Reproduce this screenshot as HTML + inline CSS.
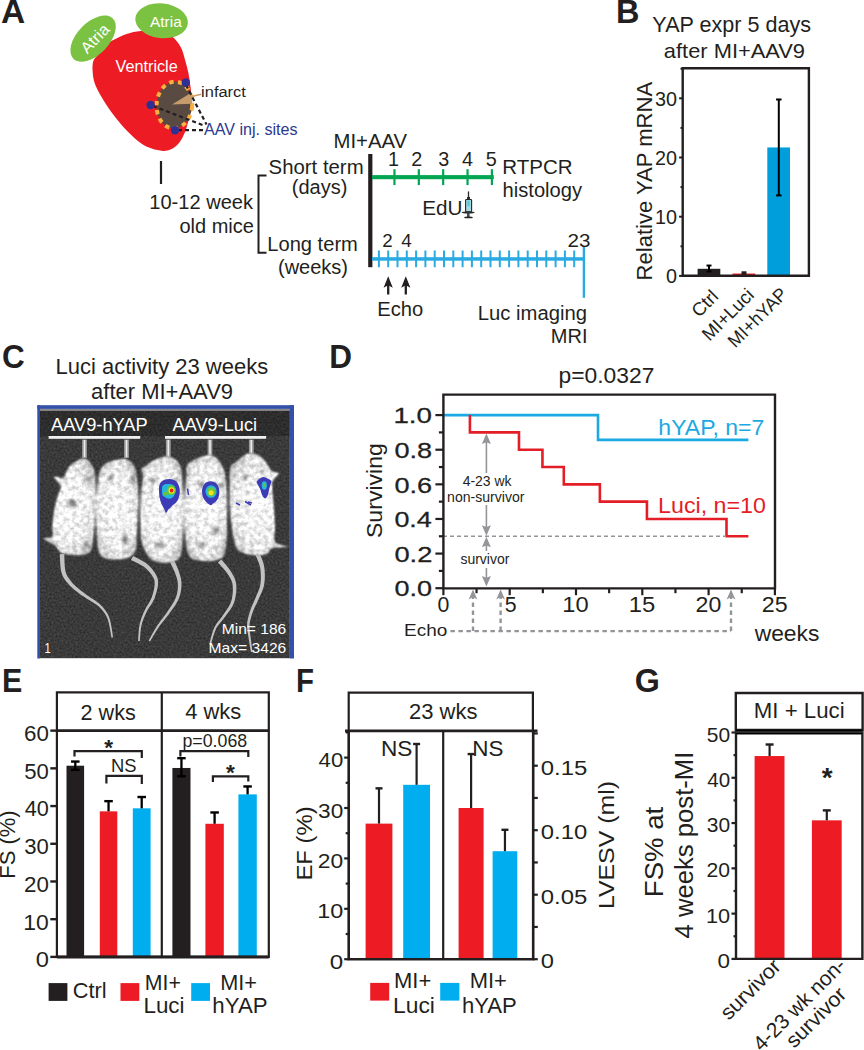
<!DOCTYPE html>
<html><head><meta charset="utf-8"><style>
html,body{margin:0;padding:0;background:#fff;}
svg{display:block;font-family:"Liberation Sans",sans-serif;}
</style></head><body>
<svg width="864" height="1050" viewBox="0 0 864 1050">
<rect width="864" height="1050" fill="#fff"/>
<text x="1.01" y="22.9" font-size="33.62" font-weight="bold" fill="#231f20" textLength="24.2" lengthAdjust="spacingAndGlyphs">A</text>
<path d="M93.3,61 C94.12,58.35 95.72,57.4 97.5,54.9 C99.28,52.4 101.45,48.43 104,46 C106.55,43.57 109.02,42.3 112.8,40.3 C116.58,38.3 122.07,35.55 126.7,34 C131.33,32.45 135.38,31.5 140.6,31 C145.82,30.5 152.77,30.08 158,31 C163.23,31.92 168.2,33.8 172,36.5 C175.8,39.2 178.63,43.33 180.8,47.2 C182.97,51.07 183.72,55.3 185,59.7 C186.28,64.1 187.57,68.97 188.5,73.6 C189.43,78.23 190.08,83.1 190.6,87.5 C191.12,91.9 191.6,96.25 191.6,100 C191.6,103.75 191.2,106.3 190.6,110 C190,113.7 189.02,118.32 188,122.2 C186.98,126.08 186,129.83 184.5,133.3 C183,136.77 181.25,140.33 179,143 C176.75,145.67 173.7,147.98 171,149.3 C168.3,150.62 166.02,151.02 162.8,150.9 C159.58,150.78 155.4,149.92 151.7,148.6 C148,147.28 144.77,146 140.6,143 C136.43,140 131.33,135.45 126.7,130.6 C122.07,125.75 116.97,119.47 112.8,113.9 C108.63,108.33 104.72,102.3 101.7,97.2 C98.68,92.1 96.22,87.7 94.7,83.3 C93.18,78.9 92.83,74.52 92.6,70.8 C92.37,67.08 92.48,63.65 93.3,61 Z" fill="#ed1c24"/>
<ellipse cx="93.1" cy="38.6" rx="28.2" ry="16" transform="rotate(-46 93.1 38.6)" fill="#7cc242"/>
<ellipse cx="161.6" cy="20.8" rx="26.4" ry="17.3" transform="rotate(6 161.6 20.8)" fill="#7cc242"/>
<g transform="translate(87.3 54.4) rotate(-46)"><text x="-0" y="0" font-size="16" fill="#fff" textLength="33.42" lengthAdjust="spacingAndGlyphs">Atria</text></g>
<text x="150" y="26.6" font-size="15" fill="#fff" textLength="31.72" lengthAdjust="spacingAndGlyphs">Atria</text>
<text x="115.62" y="71.8" font-size="16" fill="#fff" textLength="62.12" lengthAdjust="spacingAndGlyphs">Ventricle</text>
<ellipse cx="174.4" cy="105" rx="17.8" ry="23.4" transform="rotate(4 174.4 105)" fill="#594a42" stroke="#fbb040" stroke-width="4" stroke-dasharray="4.4 4.6"/>
<path d="M172,104.4 L192,92.2 L192,103.8 Z" fill="#c69c6d"/>
<line x1="191" y1="96.8" x2="201" y2="94.2" stroke="#c69c6d" stroke-width="1.6"/>
<line x1="186" y1="85" x2="206.5" y2="124.5" stroke="#231f20" stroke-width="2.2" stroke-dasharray="4 3"/>
<line x1="153" y1="106" x2="205" y2="126" stroke="#231f20" stroke-width="2.2" stroke-dasharray="4 3"/>
<line x1="178" y1="130.2" x2="203" y2="130.2" stroke="#231f20" stroke-width="2.2" stroke-dasharray="4 3"/>
<circle cx="185.8" cy="82.5" r="4.2" fill="#2e3192"/>
<circle cx="150.6" cy="105" r="4.2" fill="#2e3192"/>
<circle cx="175" cy="130.2" r="4.2" fill="#2e3192"/>
<text x="201.13" y="97.1" font-size="15.3" fill="#231f20" textLength="44.7" lengthAdjust="spacingAndGlyphs">infarct</text>
<text x="203.9" y="135.4" font-size="16" fill="#2b3990" textLength="93.7" lengthAdjust="spacingAndGlyphs">AAV inj. sites</text>
<line x1="161" y1="161" x2="161" y2="184" stroke="#231f20" stroke-width="2.2"/>
<text x="149.3" y="208.7" font-size="20" fill="#231f20" textLength="103.71" lengthAdjust="spacingAndGlyphs">10-12 week</text>
<text x="179.4" y="232.5" font-size="20" fill="#231f20">old mice</text>
<path d="M266.5,175.5 H258.5 V252.7 H266.5" fill="none" stroke="#231f20" stroke-width="2"/>
<text x="268.58" y="173.7" font-size="20" fill="#231f20" textLength="95" lengthAdjust="spacingAndGlyphs">Short term</text>
<text x="291.75" y="194" font-size="20" fill="#231f20">(days)</text>
<text x="267.29" y="251" font-size="20" fill="#231f20" textLength="90.57" lengthAdjust="spacingAndGlyphs">Long term</text>
<text x="278" y="274" font-size="20" fill="#231f20">(weeks)</text>
<rect x="368.2" y="154" width="4.2" height="113.2" fill="#231f20"/>
<text x="333.48" y="147.9" font-size="20" fill="#231f20" textLength="73.56" lengthAdjust="spacingAndGlyphs">MI+AAV</text>
<rect x="372" y="175.1" width="121.8" height="4.1" fill="#00a651"/>
<rect x="393.36" y="169.2" width="2.2" height="15.9" fill="#00a651"/>
<text x="388.11" y="166.3" font-size="19.8" fill="#231f20">1</text>
<rect x="417.72" y="169.2" width="2.2" height="15.9" fill="#00a651"/>
<text x="411.31" y="166.3" font-size="19.8" fill="#231f20">2</text>
<rect x="442.08" y="169.2" width="2.2" height="15.9" fill="#00a651"/>
<text x="438.21" y="166.3" font-size="19.8" fill="#231f20">3</text>
<rect x="466.44" y="169.2" width="2.2" height="15.9" fill="#00a651"/>
<text x="462.1" y="166.3" font-size="19.8" fill="#231f20">4</text>
<rect x="490.8" y="169.2" width="2.2" height="15.9" fill="#00a651"/>
<text x="485.81" y="166.3" font-size="19.8" fill="#231f20">5</text>
<text x="502.36" y="173.5" font-size="20" fill="#231f20" textLength="70.29" lengthAdjust="spacingAndGlyphs">RTPCR</text>
<text x="502.59" y="196.6" font-size="20" fill="#231f20" textLength="79.45" lengthAdjust="spacingAndGlyphs">histology</text>
<text x="422.15" y="215.4" font-size="19.8" fill="#231f20" textLength="40.21" lengthAdjust="spacingAndGlyphs">EdU</text>
<g><line x1="468.5" y1="192" x2="468.5" y2="197.5" stroke="#2a2a2a" stroke-width="1.3" stroke-linecap="round"/><rect x="467" y="197" width="3" height="2.6" fill="#2a2a2a"/><rect x="465.6" y="199.5" width="6" height="12.4" rx="0.8" fill="#a8d8e6" stroke="#262626" stroke-width="1.1"/><rect x="467.2" y="200.6" width="2.6" height="5.6" fill="#4fd0d8"/><ellipse cx="468.2" cy="212.5" rx="6.6" ry="0.9" fill="#262626"/><rect x="467" y="212.5" width="2.6" height="4.8" fill="#3a4a4e"/><ellipse cx="468.5" cy="217.4" rx="4.3" ry="0.9" fill="#262626"/></g>
<rect x="372" y="257.2" width="212" height="3.5" fill="#29abe2"/>
<rect x="377.9" y="250.5" width="2" height="16.7" fill="#29abe2"/>
<rect x="387.2" y="250.5" width="2" height="16.7" fill="#29abe2"/>
<rect x="396.5" y="250.5" width="2" height="16.7" fill="#29abe2"/>
<rect x="405.8" y="250.5" width="2" height="16.7" fill="#29abe2"/>
<rect x="415.1" y="250.5" width="2" height="16.7" fill="#29abe2"/>
<rect x="424.4" y="250.5" width="2" height="16.7" fill="#29abe2"/>
<rect x="433.7" y="250.5" width="2" height="16.7" fill="#29abe2"/>
<rect x="443" y="250.5" width="2" height="16.7" fill="#29abe2"/>
<rect x="452.3" y="250.5" width="2" height="16.7" fill="#29abe2"/>
<rect x="461.6" y="250.5" width="2" height="16.7" fill="#29abe2"/>
<rect x="470.9" y="250.5" width="2" height="16.7" fill="#29abe2"/>
<rect x="480.2" y="250.5" width="2" height="16.7" fill="#29abe2"/>
<rect x="489.5" y="250.5" width="2" height="16.7" fill="#29abe2"/>
<rect x="498.8" y="250.5" width="2" height="16.7" fill="#29abe2"/>
<rect x="508.1" y="250.5" width="2" height="16.7" fill="#29abe2"/>
<rect x="517.4" y="250.5" width="2" height="16.7" fill="#29abe2"/>
<rect x="526.7" y="250.5" width="2" height="16.7" fill="#29abe2"/>
<rect x="536" y="250.5" width="2" height="16.7" fill="#29abe2"/>
<rect x="545.3" y="250.5" width="2" height="16.7" fill="#29abe2"/>
<rect x="554.6" y="250.5" width="2" height="16.7" fill="#29abe2"/>
<rect x="563.9" y="250.5" width="2" height="16.7" fill="#29abe2"/>
<rect x="573.2" y="250.5" width="2" height="16.7" fill="#29abe2"/>
<rect x="582.7" y="247" width="2.4" height="50.8" fill="#29abe2"/>
<text x="382.18" y="247.4" font-size="18.8" fill="#231f20">2</text>
<text x="401.18" y="247.4" font-size="18.8" fill="#231f20">4</text>
<text x="567.47" y="247.4" font-size="18.8" fill="#231f20" textLength="22.9" lengthAdjust="spacingAndGlyphs">23</text>
<line x1="388.2" y1="284" x2="388.2" y2="294.5" stroke="#231f20" stroke-width="2.3"/>
<path d="M388.2,276.2 L392.8,287.7 L388.2,285.3 L383.59999999999997,287.7 Z" fill="#231f20"/>
<line x1="405.8" y1="284" x2="405.8" y2="294.5" stroke="#231f20" stroke-width="2.3"/>
<path d="M405.8,276.2 L410.40000000000003,287.7 L405.8,285.3 L401.2,287.7 Z" fill="#231f20"/>
<text x="377.29" y="315.8" font-size="20" fill="#231f20" textLength="46.01" lengthAdjust="spacingAndGlyphs">Echo</text>
<text x="477.78" y="320.2" font-size="20" fill="#231f20" textLength="109.18" lengthAdjust="spacingAndGlyphs">Luc imaging</text>
<text x="550.8" y="342.7" font-size="20" fill="#231f20">MRI</text>
<text x="615.89" y="23.1" font-size="33.62" font-weight="bold" fill="#231f20" textLength="23.44" lengthAdjust="spacingAndGlyphs">B</text>
<text x="652.36" y="31.6" font-size="21.3" fill="#231f20" textLength="158.72" lengthAdjust="spacingAndGlyphs">YAP expr 5 days</text>
<text x="663.83" y="57.8" font-size="21" fill="#231f20" textLength="141.2" lengthAdjust="spacingAndGlyphs">after MI+AAV9</text>
<rect x="697.6" y="268.8" width="22.7" height="7.1" fill="#231f20"/>
<rect x="732.5" y="273.53" width="22.7" height="2.37" fill="#ed1c24"/>
<rect x="767.3" y="147.44" width="22.7" height="128.46" fill="#009edb"/>
<line x1="709" y1="265.54" x2="709" y2="271.46" stroke="#000" stroke-width="2"/>
<line x1="706.5" y1="265.54" x2="711.5" y2="265.54" stroke="#000" stroke-width="2"/>
<line x1="706.5" y1="271.46" x2="711.5" y2="271.46" stroke="#000" stroke-width="2"/>
<rect x="741.5" y="271.3" width="5" height="3.5" fill="#231f20"/>
<line x1="778.8" y1="99.48" x2="778.8" y2="195.39" stroke="#000" stroke-width="2"/>
<line x1="776.05" y1="99.48" x2="781.55" y2="99.48" stroke="#000" stroke-width="2"/>
<line x1="776.05" y1="195.39" x2="781.55" y2="195.39" stroke="#000" stroke-width="2"/>
<path d="M682.7,68.3 V275.7 H808.9 V68.3 Z" fill="none" stroke="#231f20" stroke-width="2.4"/>
<line x1="679.1" y1="275.9" x2="682.7" y2="275.9" stroke="#231f20" stroke-width="2"/>
<line x1="680.5" y1="246.3" x2="682.7" y2="246.3" stroke="#231f20" stroke-width="2"/>
<line x1="679.1" y1="216.7" x2="682.7" y2="216.7" stroke="#231f20" stroke-width="2"/>
<line x1="680.5" y1="187.1" x2="682.7" y2="187.1" stroke="#231f20" stroke-width="2"/>
<line x1="679.1" y1="157.5" x2="682.7" y2="157.5" stroke="#231f20" stroke-width="2"/>
<line x1="680.5" y1="127.9" x2="682.7" y2="127.9" stroke="#231f20" stroke-width="2"/>
<line x1="679.1" y1="98.3" x2="682.7" y2="98.3" stroke="#231f20" stroke-width="2"/>
<line x1="680.5" y1="68.7" x2="682.7" y2="68.7" stroke="#231f20" stroke-width="2"/>
<text x="666" y="283.2" font-size="19.8" fill="#231f20">0</text>
<text x="655.01" y="224" font-size="19.8" fill="#231f20">10</text>
<text x="655.01" y="164.8" font-size="19.8" fill="#231f20">20</text>
<text x="655.01" y="105.6" font-size="19.8" fill="#231f20">30</text>
<g transform="translate(651.5 278.7) rotate(-90)"><text x="-1.76" y="0" font-size="21.5" fill="#231f20" textLength="198.55" lengthAdjust="spacingAndGlyphs">Relative YAP mRNA</text></g>
<g transform="translate(718.7 298.5) rotate(-45)"><text x="-28.04" y="0" font-size="18.5" fill="#231f20" textLength="29.27" lengthAdjust="spacingAndGlyphs">Ctrl</text></g>
<g transform="translate(754.2 297.1) rotate(-45)"><text x="-63.06" y="0" font-size="18.5" fill="#231f20" textLength="64.32" lengthAdjust="spacingAndGlyphs">MI+Luci</text></g>
<g transform="translate(787.9 295.8) rotate(-45)"><text x="-74.44" y="0" font-size="18.5" fill="#231f20" textLength="75.4" lengthAdjust="spacingAndGlyphs">MI+hYAP</text></g>
<text x="1.94" y="367.6" font-size="33.86" font-weight="bold" fill="#231f20" textLength="22.71" lengthAdjust="spacingAndGlyphs">C</text>
<text x="55.54" y="373.7" font-size="21.8" fill="#231f20" textLength="212.65" lengthAdjust="spacingAndGlyphs">Luci activity 23 weeks</text>
<text x="91.12" y="399" font-size="21.8" fill="#231f20" textLength="141.91" lengthAdjust="spacingAndGlyphs">after MI+AAV9</text>
<defs>
<filter id="bgnoise" x="0" y="0" width="100%" height="100%" color-interpolation-filters="sRGB">
  <feTurbulence type="fractalNoise" baseFrequency="0.5" numOctaves="2" seed="7" result="n"/>
  <feColorMatrix in="n" type="matrix" values="1 0 0 0 0  1 0 0 0 0  1 0 0 0 0  0 0 0 0 1" result="g"/>
  <feComposite in="SourceGraphic" in2="g" operator="arithmetic" k1="0.9" k2="0.55" k3="0" k4="0" result="c"/>
  <feComposite in="c" in2="SourceGraphic" operator="in"/>
</filter>
<filter id="fur" x="-5%" y="-5%" width="110%" height="110%" color-interpolation-filters="sRGB">
  <feGaussianBlur in="SourceGraphic" stdDeviation="0.9" result="b"/>
  <feTurbulence type="fractalNoise" baseFrequency="0.22" numOctaves="3" seed="11" result="n"/>
  <feColorMatrix in="n" type="matrix" values="1 0 0 0 0  1 0 0 0 0  1 0 0 0 0  0 0 0 0 1" result="g"/>
  <feComposite in="b" in2="g" operator="arithmetic" k1="0.55" k2="0.76" k3="0" k4="0" result="c"/>
  <feComposite in="c" in2="b" operator="in"/>
</filter>
<filter id="soft" x="-10%" y="-10%" width="120%" height="120%"><feGaussianBlur stdDeviation="0.7"/></filter>
<filter id="soft2" x="-50%" y="-50%" width="200%" height="200%"><feGaussianBlur stdDeviation="2"/></filter>
<filter id="soft3" x="-80%" y="-80%" width="260%" height="260%"><feGaussianBlur stdDeviation="1.3"/></filter>
<radialGradient id="mg" cx="0.5" cy="0.5" r="0.6">
  <stop offset="0" stop-color="#f2f2f2"/><stop offset="0.7" stop-color="#e2e2e2"/><stop offset="1" stop-color="#b0b0b0"/>
</radialGradient>
<clipPath id="imgclip"><rect x="40" y="408.9" width="249.9" height="249.6"/></clipPath>
</defs>
<rect x="37.3" y="405.2" width="256.7" height="3.7" fill="#3550a8"/>
<rect x="37.3" y="405.2" width="2.7" height="253.3" fill="#3550a8"/>
<rect x="289.9" y="405.2" width="4.1" height="253.3" fill="#3550a8"/>
<g clip-path="url(#imgclip)">
<rect x="40" y="408.9" width="249.9" height="249.6" fill="#3a3a3a" filter="url(#bgnoise)"/>
<rect x="40" y="408.9" width="249.9" height="2" fill="#8a8a8a"/>
<rect x="40" y="411" width="249.9" height="25" fill="#000" opacity="0.22"/>
<path d="M59.7,554.15 L59.78,555.01 L59.84,556.13 L59.91,557.47 L59.98,559.01 L60.06,560.67 L60.15,562.42 L60.27,564.23 L60.42,566.03 L60.61,567.81 L60.84,569.5 L61.13,571.1 L61.48,572.54 L61.89,573.82 L62.35,575.01 L62.84,576.13 L63.38,577.19 L63.95,578.19 L64.55,579.13 L65.18,580.03 L65.83,580.9 L66.49,581.74 L67.17,582.56 L67.86,583.37 L68.57,584.21 L69.34,585.07 L70.16,585.92 L71.02,586.76 L71.9,587.58 L72.8,588.37 L73.72,589.15 L74.63,589.9 L75.54,590.63 L76.44,591.34 L77.31,592.02 L78.16,592.67 L78.97,593.3 L79.75,593.89 L80.51,594.45 L81.25,594.97 L81.96,595.45 L82.66,595.91 L83.35,596.35 L84.05,596.79 L84.75,597.23 L85.46,597.68 L86.2,598.15 L86.96,598.64 L87.79,599.19 L88.68,599.77 L89.62,600.36 L90.59,600.95 L91.59,601.54 L92.59,602.14 L93.6,602.75 L94.6,603.38 L95.58,604.03 L96.53,604.7 L97.45,605.39 L98.31,606.11 L99.14,606.87 L99.94,607.67 L100.74,608.49 L101.51,609.32 L102.27,610.17 L103,611.04 L103.71,611.94 L104.39,612.88 L105.04,613.86 L105.67,614.9 L106.26,615.99 L106.83,617.14 L107.35,618.36 L107.85,619.72 L108.32,621.29 L108.76,623.02 L109.18,624.86 L109.56,626.75 L109.93,628.66 L110.26,630.52 L110.56,632.3 L110.84,633.95 L111.09,635.42 L111.31,636.67 L111.51,637.65 L113.09,637.35 L112.93,636.39 L112.74,635.16 L112.53,633.69 L112.28,632.03 L112.01,630.23 L111.71,628.34 L111.38,626.41 L111.02,624.48 L110.63,622.59 L110.21,620.79 L109.75,619.12 L109.25,617.64 L108.71,616.31 L108.14,615.05 L107.53,613.86 L106.89,612.73 L106.22,611.65 L105.52,610.62 L104.79,609.63 L104.04,608.68 L103.27,607.76 L102.49,606.87 L101.69,606 L100.86,605.13 L99.99,604.26 L99.05,603.43 L98.07,602.65 L97.07,601.9 L96.06,601.19 L95.04,600.5 L94.02,599.84 L93.03,599.2 L92.06,598.58 L91.13,597.98 L90.25,597.39 L89.41,596.81 L88.61,596.23 L87.85,595.69 L87.11,595.18 L86.41,594.7 L85.73,594.23 L85.07,593.77 L84.42,593.31 L83.77,592.85 L83.12,592.36 L82.45,591.85 L81.76,591.3 L81.03,590.7 L80.25,590.05 L79.43,589.38 L78.59,588.68 L77.74,587.96 L76.88,587.22 L76.02,586.48 L75.18,585.71 L74.35,584.94 L73.56,584.16 L72.8,583.38 L72.1,582.59 L71.43,581.79 L70.78,580.98 L70.14,580.17 L69.53,579.37 L68.95,578.58 L68.4,577.79 L67.88,576.99 L67.4,576.17 L66.95,575.33 L66.54,574.44 L66.16,573.51 L65.82,572.51 L65.52,571.46 L65.26,570.28 L65.04,568.89 L64.86,567.34 L64.72,565.67 L64.61,563.94 L64.53,562.2 L64.47,560.49 L64.43,558.85 L64.4,557.32 L64.37,555.95 L64.34,554.77 L64.3,553.85 Z" fill="#c2c2c2" filter="url(#soft)"/>
<path d="M130.93,560.04 L131.65,560.39 L132.56,560.83 L133.62,561.32 L134.79,561.87 L136.05,562.47 L137.36,563.1 L138.7,563.77 L140.02,564.47 L141.3,565.17 L142.5,565.88 L143.58,566.57 L144.51,567.24 L145.37,567.93 L146.22,568.68 L147.05,569.47 L147.85,570.29 L148.63,571.13 L149.37,571.98 L150.07,572.84 L150.73,573.69 L151.34,574.54 L151.9,575.36 L152.41,576.15 L152.86,576.91 L153.26,577.61 L153.6,578.26 L153.88,578.86 L154.1,579.42 L154.29,579.95 L154.43,580.48 L154.55,581.03 L154.62,581.61 L154.67,582.24 L154.69,582.94 L154.68,583.71 L154.65,584.57 L154.58,585.49 L154.46,586.49 L154.3,587.57 L154.1,588.69 L153.87,589.86 L153.6,591.05 L153.3,592.26 L152.97,593.47 L152.62,594.67 L152.25,595.84 L151.86,596.98 L151.47,598.05 L151.04,599.07 L150.57,600.06 L150.05,601.04 L149.49,602.02 L148.9,602.99 L148.29,603.97 L147.66,604.97 L147.03,605.97 L146.41,607 L145.8,608.06 L145.23,609.15 L144.69,610.27 L144.19,611.38 L143.7,612.5 L143.22,613.62 L142.74,614.76 L142.27,615.92 L141.82,617.09 L141.39,618.27 L140.98,619.47 L140.59,620.69 L140.23,621.93 L139.91,623.19 L139.61,624.48 L139.35,625.85 L139.13,627.32 L138.94,628.87 L138.77,630.46 L138.64,632.06 L138.52,633.65 L138.42,635.18 L138.34,636.63 L138.27,637.96 L138.21,639.14 L138.16,640.14 L138.1,640.93 L139.7,641.07 L139.79,640.27 L139.88,639.26 L139.98,638.07 L140.08,636.74 L140.2,635.31 L140.33,633.79 L140.48,632.23 L140.65,630.66 L140.84,629.11 L141.06,627.61 L141.31,626.21 L141.59,624.92 L141.9,623.71 L142.25,622.52 L142.63,621.34 L143.03,620.18 L143.46,619.03 L143.91,617.9 L144.38,616.78 L144.87,615.67 L145.37,614.57 L145.88,613.48 L146.39,612.4 L146.91,611.33 L147.44,610.31 L148,609.31 L148.6,608.34 L149.23,607.37 L149.87,606.4 L150.53,605.43 L151.18,604.44 L151.83,603.44 L152.46,602.42 L153.06,601.37 L153.62,600.27 L154.13,599.15 L154.6,597.99 L155.05,596.8 L155.47,595.58 L155.87,594.33 L156.25,593.07 L156.6,591.81 L156.92,590.56 L157.21,589.33 L157.46,588.13 L157.67,586.98 L157.83,585.87 L157.95,584.83 L158.03,583.88 L158.08,583 L158.09,582.16 L158.07,581.34 L158.01,580.55 L157.89,579.78 L157.73,579.01 L157.51,578.25 L157.24,577.49 L156.93,576.72 L156.56,575.92 L156.14,575.09 L155.66,574.22 L155.12,573.31 L154.52,572.37 L153.87,571.42 L153.18,570.45 L152.43,569.48 L151.65,568.51 L150.81,567.56 L149.94,566.62 L149.03,565.7 L148.08,564.82 L147.09,563.96 L145.99,563.12 L144.77,562.29 L143.47,561.48 L142.11,560.69 L140.73,559.93 L139.35,559.2 L138.01,558.51 L136.74,557.86 L135.58,557.28 L134.56,556.76 L133.72,556.32 L133.07,555.96 Z" fill="#c2c2c2" filter="url(#soft)"/>
<path d="M169.81,561.97 L170.1,562.54 L170.46,563.24 L170.89,564.06 L171.35,564.96 L171.85,565.94 L172.37,566.98 L172.9,568.05 L173.42,569.14 L173.92,570.22 L174.38,571.28 L174.8,572.3 L175.16,573.26 L175.5,574.22 L175.83,575.18 L176.16,576.14 L176.46,577.08 L176.75,578.02 L177.02,578.96 L177.25,579.9 L177.46,580.84 L177.63,581.79 L177.76,582.75 L177.85,583.71 L177.9,584.71 L177.91,585.75 L177.88,586.81 L177.83,587.9 L177.74,589.01 L177.62,590.12 L177.46,591.25 L177.26,592.38 L177.02,593.51 L176.75,594.65 L176.43,595.78 L176.07,596.9 L175.67,598.01 L175.21,599.11 L174.68,600.22 L174.1,601.34 L173.46,602.47 L172.77,603.61 L172.05,604.76 L171.3,605.92 L170.52,607.07 L169.72,608.24 L168.92,609.41 L168.12,610.59 L167.33,611.76 L166.55,612.91 L165.73,614.06 L164.89,615.21 L164.03,616.36 L163.16,617.52 L162.27,618.68 L161.39,619.85 L160.5,621.02 L159.63,622.21 L158.77,623.4 L157.94,624.6 L157.13,625.81 L156.32,627.08 L155.5,628.43 L154.66,629.83 L153.82,631.26 L153,632.69 L152.2,634.1 L151.44,635.47 L150.73,636.75 L150.07,637.93 L149.5,638.98 L149.01,639.88 L148.61,640.6 L149.99,641.4 L150.42,640.7 L150.96,639.82 L151.57,638.79 L152.26,637.63 L153.01,636.37 L153.8,635.03 L154.63,633.65 L155.48,632.25 L156.35,630.86 L157.21,629.5 L158.05,628.2 L158.87,626.99 L159.69,625.83 L160.54,624.69 L161.41,623.54 L162.3,622.4 L163.21,621.27 L164.13,620.13 L165.04,618.99 L165.96,617.85 L166.86,616.71 L167.76,615.56 L168.63,614.4 L169.47,613.24 L170.29,612.1 L171.12,610.96 L171.95,609.81 L172.79,608.66 L173.61,607.5 L174.42,606.34 L175.21,605.17 L175.97,603.99 L176.69,602.81 L177.36,601.61 L177.98,600.4 L178.53,599.19 L179.02,597.97 L179.46,596.75 L179.85,595.52 L180.2,594.29 L180.5,593.06 L180.76,591.83 L180.97,590.61 L181.15,589.39 L181.29,588.2 L181.39,587.01 L181.46,585.84 L181.5,584.69 L181.49,583.54 L181.43,582.4 L181.32,581.28 L181.17,580.19 L180.98,579.11 L180.76,578.05 L180.51,577.01 L180.24,575.98 L179.95,574.96 L179.66,573.95 L179.35,572.95 L179.04,571.94 L178.68,570.86 L178.26,569.72 L177.8,568.56 L177.31,567.4 L176.81,566.24 L176.3,565.11 L175.81,564.03 L175.34,563.02 L174.9,562.09 L174.53,561.27 L174.22,560.58 L173.99,560.03 Z" fill="#c2c2c2" filter="url(#soft)"/>
<path d="M217.85,562.49 L218.36,563.06 L219.01,563.76 L219.76,564.57 L220.6,565.47 L221.5,566.44 L222.44,567.47 L223.39,568.54 L224.33,569.63 L225.23,570.71 L226.07,571.76 L226.82,572.76 L227.48,573.71 L228.09,574.65 L228.69,575.58 L229.27,576.48 L229.81,577.37 L230.31,578.25 L230.78,579.12 L231.2,580.01 L231.58,580.91 L231.91,581.84 L232.2,582.81 L232.43,583.82 L232.61,584.91 L232.74,586.09 L232.83,587.37 L232.86,588.73 L232.85,590.14 L232.8,591.59 L232.7,593.07 L232.55,594.55 L232.35,596.02 L232.11,597.47 L231.83,598.88 L231.5,600.23 L231.13,601.5 L230.71,602.71 L230.2,603.9 L229.62,605.07 L228.98,606.23 L228.29,607.39 L227.55,608.53 L226.79,609.67 L226,610.79 L225.21,611.92 L224.43,613.04 L223.66,614.16 L222.93,615.26 L222.23,616.31 L221.52,617.3 L220.79,618.26 L220.04,619.21 L219.29,620.15 L218.53,621.1 L217.78,622.07 L217.04,623.06 L216.32,624.1 L215.63,625.18 L214.97,626.33 L214.36,627.54 L213.78,628.87 L213.22,630.32 L212.68,631.87 L212.17,633.48 L211.68,635.12 L211.22,636.74 L210.79,638.32 L210.4,639.82 L210.04,641.2 L209.73,642.43 L209.46,643.46 L209.23,644.27 L210.77,644.73 L211.03,643.92 L211.35,642.88 L211.7,641.66 L212.1,640.29 L212.53,638.81 L212.99,637.26 L213.49,635.67 L214.01,634.07 L214.54,632.52 L215.1,631.04 L215.67,629.67 L216.24,628.46 L216.84,627.37 L217.48,626.34 L218.15,625.36 L218.86,624.42 L219.6,623.5 L220.36,622.59 L221.13,621.68 L221.92,620.75 L222.72,619.81 L223.52,618.83 L224.31,617.8 L225.07,616.74 L225.83,615.67 L226.61,614.6 L227.42,613.52 L228.25,612.41 L229.08,611.29 L229.91,610.13 L230.72,608.95 L231.5,607.74 L232.24,606.49 L232.92,605.2 L233.54,603.87 L234.07,602.5 L234.52,601.08 L234.92,599.62 L235.27,598.1 L235.57,596.55 L235.83,594.98 L236.03,593.4 L236.18,591.82 L236.29,590.27 L236.34,588.74 L236.34,587.27 L236.29,585.85 L236.19,584.49 L236.02,583.19 L235.78,581.95 L235.48,580.76 L235.12,579.62 L234.71,578.52 L234.25,577.46 L233.76,576.44 L233.23,575.44 L232.68,574.45 L232.11,573.48 L231.53,572.5 L230.92,571.49 L230.22,570.4 L229.42,569.25 L228.54,568.08 L227.61,566.91 L226.67,565.75 L225.71,564.61 L224.78,563.53 L223.9,562.51 L223.09,561.58 L222.38,560.75 L221.8,560.06 L221.35,559.51 Z" fill="#c2c2c2" filter="url(#soft)"/>
<path d="M254.86,553.84 L255.15,554.55 L255.55,555.43 L256,556.42 L256.5,557.51 L257.03,558.7 L257.57,559.95 L258.11,561.25 L258.63,562.58 L259.11,563.92 L259.53,565.24 L259.88,566.52 L260.14,567.76 L260.35,569.02 L260.52,570.36 L260.66,571.75 L260.77,573.18 L260.84,574.62 L260.87,576.08 L260.87,577.54 L260.84,578.98 L260.77,580.4 L260.66,581.79 L260.53,583.12 L260.36,584.38 L260.14,585.58 L259.87,586.75 L259.54,587.9 L259.16,589.03 L258.75,590.16 L258.31,591.28 L257.84,592.39 L257.36,593.5 L256.87,594.62 L256.39,595.73 L255.91,596.85 L255.47,597.96 L255.05,599.03 L254.62,600.05 L254.18,601.06 L253.74,602.05 L253.29,603.05 L252.83,604.04 L252.39,605.04 L251.95,606.05 L251.52,607.09 L251.1,608.14 L250.7,609.23 L250.34,610.33 L249.98,611.44 L249.63,612.56 L249.28,613.69 L248.93,614.84 L248.59,616 L248.27,617.19 L247.98,618.39 L247.71,619.6 L247.49,620.84 L247.3,622.08 L247.16,623.35 L247.07,624.63 L247.05,625.95 L247.1,627.29 L247.19,628.66 L247.34,630.04 L247.52,631.42 L247.72,632.8 L247.94,634.16 L248.17,635.5 L248.4,636.8 L248.62,638.07 L248.82,639.28 L248.99,640.43 L249.16,641.58 L249.33,642.74 L249.51,643.91 L249.7,645.06 L249.88,646.18 L250.06,647.26 L250.23,648.29 L250.4,649.24 L250.55,650.12 L250.69,650.9 L250.81,651.57 L250.91,652.12 L252.49,651.88 L252.43,651.33 L252.34,650.65 L252.24,649.86 L252.12,648.98 L251.99,648.02 L251.85,646.99 L251.71,645.91 L251.56,644.79 L251.42,643.64 L251.27,642.48 L251.14,641.32 L251.01,640.17 L250.86,638.99 L250.7,637.75 L250.51,636.47 L250.32,635.15 L250.12,633.82 L249.94,632.48 L249.78,631.13 L249.64,629.8 L249.54,628.48 L249.48,627.2 L249.47,625.96 L249.53,624.77 L249.64,623.6 L249.8,622.45 L250.01,621.3 L250.26,620.15 L250.54,619.02 L250.85,617.89 L251.19,616.77 L251.55,615.65 L251.92,614.54 L252.3,613.44 L252.69,612.35 L253.06,611.27 L253.45,610.23 L253.85,609.23 L254.27,608.25 L254.71,607.29 L255.17,606.32 L255.64,605.36 L256.12,604.39 L256.61,603.4 L257.09,602.4 L257.58,601.37 L258.06,600.31 L258.53,599.24 L258.99,598.17 L259.48,597.11 L259.99,596.03 L260.51,594.93 L261.03,593.81 L261.55,592.66 L262.06,591.48 L262.55,590.26 L263,589.01 L263.41,587.72 L263.76,586.39 L264.04,585.02 L264.27,583.62 L264.46,582.17 L264.61,580.69 L264.72,579.17 L264.79,577.63 L264.83,576.08 L264.83,574.53 L264.79,572.98 L264.71,571.45 L264.6,569.95 L264.45,568.48 L264.26,567.04 L263.98,565.58 L263.62,564.09 L263.18,562.6 L262.69,561.12 L262.17,559.68 L261.63,558.29 L261.1,556.97 L260.58,555.74 L260.11,554.62 L259.71,553.64 L259.38,552.82 L259.14,552.16 Z" fill="#c2c2c2" filter="url(#soft)"/>
<rect x="82.1" y="439.5" width="4.8" height="18.5" fill="#9a9a9a" filter="url(#soft)"/>
<rect x="83.7" y="440" width="1.6" height="17" fill="#ececec"/>
<rect x="124.1" y="439.5" width="4.8" height="18.5" fill="#9a9a9a" filter="url(#soft)"/>
<rect x="125.7" y="440" width="1.6" height="17" fill="#ececec"/>
<rect x="165.9" y="439.5" width="4.8" height="18.5" fill="#9a9a9a" filter="url(#soft)"/>
<rect x="167.5" y="440" width="1.6" height="17" fill="#ececec"/>
<rect x="207.6" y="439.5" width="4.8" height="18.5" fill="#9a9a9a" filter="url(#soft)"/>
<rect x="209.2" y="440" width="1.6" height="17" fill="#ececec"/>
<rect x="248.9" y="439.5" width="4.8" height="18.5" fill="#9a9a9a" filter="url(#soft)"/>
<rect x="250.5" y="440" width="1.6" height="17" fill="#ececec"/>
<g filter="url(#fur)">
<path d="M83.5,457.5 C85.83,457.58 88,458.58 90,461 C92,463.42 94.45,467.17 95.5,472 C96.55,476.83 96.3,482.83 96.3,490 C96.3,497.17 95.88,506.67 95.5,515 C95.12,523.33 94.67,534 94,540 C93.33,546 93.17,548.42 91.5,551 C89.83,553.58 87.58,554.75 84,555.5 C80.42,556.25 74,555.92 70,555.5 C66,555.08 62.58,554.58 60,553 C57.42,551.42 56.67,547.83 54.5,546 C52.33,544.17 49,543.25 47,542 C45,540.75 42.5,539.33 42.5,538.5 C42.5,537.67 45.42,537.42 47,537 C48.58,536.58 51.25,538 52,536 C52.75,534 51.25,529.33 51.5,525 C51.75,520.67 52.67,514.67 53.5,510 C54.33,505.33 55.42,500.83 56.5,497 C57.58,493.17 60.08,489.67 60,487 C59.92,484.33 57.17,482.75 56,481 C54.83,479.25 52.67,477.33 53,476.5 C53.33,475.67 56.33,475.92 58,476 C59.67,476.08 61.33,478.5 63,477 C64.67,475.5 65.83,469.75 68,467 C70.17,464.25 73.42,462.08 76,460.5 C78.58,458.92 81.17,457.42 83.5,457.5 Z" fill="url(#mg)"/>
<path d="M123.9,458 C126.57,458.25 128.9,459 131,461 C133.1,463 135.2,465.17 136.5,470 C137.8,474.83 138.47,482.5 138.8,490 C139.13,497.5 138.72,507 138.5,515 C138.28,523 137.92,531.83 137.5,538 C137.08,544.17 137.75,548.5 136,552 C134.25,555.5 131,557.62 127,559 C123,560.38 116.17,560.55 112,560.3 C107.83,560.05 104.42,559.22 102,557.5 C99.58,555.78 98.53,554.58 97.5,550 C96.47,545.42 96.13,537.5 95.8,530 C95.47,522.5 95.3,512.5 95.5,505 C95.7,497.5 96.37,490.83 97,485 C97.63,479.17 97.8,473.75 99.3,470 C100.8,466.25 103.38,464.25 106,462.5 C108.62,460.75 112.02,460.25 115,459.5 C117.98,458.75 121.23,457.75 123.9,458 Z" fill="url(#mg)"/>
<path d="M167.3,455.5 C169.97,455.83 173.58,456.92 176,459 C178.42,461.08 180.5,462.83 181.8,468 C183.1,473.17 183.43,482.17 183.8,490 C184.17,497.83 184.08,506.67 184,515 C183.92,523.33 183.88,532.83 183.3,540 C182.72,547.17 183.05,554.08 180.5,558 C177.95,561.92 172.25,562.83 168,563.5 C163.75,564.17 158.33,563.08 155,562 C151.67,560.92 150.33,560.17 148,557 C145.67,553.83 142.42,549.17 141,543 C139.58,536.83 139.67,528 139.5,520 C139.33,512 139.58,502.17 140,495 C140.42,487.83 141.92,481.33 142,477 C142.08,472.67 140.08,470.92 140.5,469 C140.92,467.08 142.58,466.92 144.5,465.5 C146.42,464.08 149.42,461.92 152,460.5 C154.58,459.08 157.45,457.83 160,457 C162.55,456.17 164.63,455.17 167.3,455.5 Z" fill="url(#mg)"/>
<path d="M210.7,454 C213.45,454.5 216.08,456.17 218.5,459 C220.92,461.83 223.7,465.83 225.2,471 C226.7,476.17 227.07,482.67 227.5,490 C227.93,497.33 227.8,506.67 227.8,515 C227.8,523.33 228.13,533 227.5,540 C226.87,547 226.58,553.37 224,557 C221.42,560.63 216.33,561.13 212,561.8 C207.67,562.47 201.67,561.63 198,561 C194.33,560.37 192.08,560.5 190,558 C187.92,555.5 186.53,552.33 185.5,546 C184.47,539.67 184.02,528.5 183.8,520 C183.58,511.5 183.92,502.17 184.2,495 C184.48,487.83 185.18,482 185.5,477 C185.82,472 184.85,467.92 186.1,465 C187.35,462.08 190.35,461 193,459.5 C195.65,458 199.05,456.92 202,456 C204.95,455.08 207.95,453.5 210.7,454 Z" fill="url(#mg)"/>
<path d="M248.3,452.5 C250.97,452.17 255.05,452.58 258,454 C260.95,455.42 263.75,458.33 266,461 C268.25,463.67 269.83,468.25 271.5,470 C273.17,471.75 274.58,471 276,471.5 C277.42,472 279.92,472 280,473 C280.08,474 277.67,475.67 276.5,477.5 C275.33,479.33 273.33,479.42 273,484 C272.67,488.58 274.05,498.17 274.5,505 C274.95,511.83 275.53,519 275.7,525 C275.87,531 274.45,537.83 275.5,541 C276.55,544.17 279.75,543.08 282,544 C284.25,544.92 289,545.75 289,546.5 C289,547.25 284.83,548.08 282,548.5 C279.17,548.92 274.5,547.92 272,549 C269.5,550.08 269.67,553.83 267,555 C264.33,556.17 259.67,556.08 256,556 C252.33,555.92 248.33,555.67 245,554.5 C241.67,553.33 238.08,551.92 236,549 C233.92,546.08 233.57,542.67 232.5,537 C231.43,531.33 230.18,522.83 229.6,515 C229.02,507.17 229.02,497.92 229,490 C228.98,482.08 228.33,472.33 229.5,467.5 C230.67,462.67 233.92,462.92 236,461 C238.08,459.08 239.95,457.42 242,456 C244.05,454.58 245.63,452.83 248.3,452.5 Z" fill="url(#mg)"/>
<ellipse cx="88.5" cy="479" rx="2.8" ry="3.2" fill="#6a6a6a" opacity="0.8" filter="url(#soft3)"/>
<ellipse cx="72" cy="503" rx="4.5" ry="4.5" fill="#6a6a6a" opacity="0.8" filter="url(#soft3)"/>
<ellipse cx="111" cy="478" rx="2.8" ry="2.8" fill="#6a6a6a" opacity="0.8" filter="url(#soft3)"/>
<ellipse cx="133" cy="479" rx="2.8" ry="3.2" fill="#6a6a6a" opacity="0.8" filter="url(#soft3)"/>
<ellipse cx="125" cy="540" rx="3.2" ry="4.5" fill="#6a6a6a" opacity="0.8" filter="url(#soft3)"/>
<ellipse cx="153" cy="481" rx="2.8" ry="2.8" fill="#6a6a6a" opacity="0.8" filter="url(#soft3)"/>
<ellipse cx="175" cy="482" rx="2.5" ry="2.5" fill="#6a6a6a" opacity="0.8" filter="url(#soft3)"/>
<ellipse cx="201" cy="484" rx="2.8" ry="2.8" fill="#6a6a6a" opacity="0.8" filter="url(#soft3)"/>
<ellipse cx="221" cy="486" rx="2.8" ry="2.8" fill="#6a6a6a" opacity="0.8" filter="url(#soft3)"/>
<ellipse cx="216" cy="530" rx="3" ry="4" fill="#6a6a6a" opacity="0.8" filter="url(#soft3)"/>
<ellipse cx="245" cy="477" rx="2.8" ry="2.8" fill="#6a6a6a" opacity="0.8" filter="url(#soft3)"/>
<ellipse cx="262" cy="472" rx="2" ry="2" fill="#6a6a6a" opacity="0.8" filter="url(#soft3)"/>
<ellipse cx="86" cy="545" rx="3" ry="3" fill="#6a6a6a" opacity="0.8" filter="url(#soft3)"/>
<ellipse cx="160" cy="545" rx="4" ry="3" fill="#6a6a6a" opacity="0.8" filter="url(#soft3)"/>
<ellipse cx="202" cy="545" rx="3" ry="3" fill="#6a6a6a" opacity="0.8" filter="url(#soft3)"/>
</g>
<path d="M159,490 C158.5,482 163,479 169.5,479 C176,479 179.8,484 179.8,491 C179.8,498 177,503 173,505 C171,507 170,509 168,509.5 C167.5,512 166.5,513 165.5,512.5 C164.5,509 163,507 161.5,504 C159.5,499 159,495 159,490 Z" fill="#3c3cb6"/>
<path d="M162,488 C162,484.5 165,483.5 168,484 C172,483.8 175.5,485 175.5,490 C175.5,495 173,498.5 169.5,498.8 C167,499 165.5,497.5 164,496.5 C162,496 162,493 162,491 Z" fill="#25b6e0"/>
<ellipse cx="171.3" cy="490.3" rx="4.6" ry="5" fill="#62c43c"/>
<path d="M163.5,492 L168,491.5 L168.5,495 L164,495.5 Z" fill="#62c43c"/>
<ellipse cx="171.5" cy="490.5" rx="3" ry="3.3" fill="#f0e41e"/>
<ellipse cx="171.6" cy="490.5" rx="1.8" ry="2" fill="#e8201e"/>
<path d="M202,492 C202,485 205.5,481.2 210.5,481.2 C215.5,481.2 219.4,485 219.4,492 C219.4,498 216.5,502 213,503.5 C212,505 211,505.5 210,505 C207,503.5 204,500 202.7,496.5 Z" fill="#3c3cb6"/>
<ellipse cx="211.1" cy="491.5" rx="5.6" ry="6.3" fill="#25b6e0"/>
<ellipse cx="211.2" cy="491.8" rx="4.2" ry="4.6" fill="#6ac63c"/>
<ellipse cx="211.1" cy="492.7" rx="2.5" ry="2.5" fill="#f0e41e"/>
<path d="M256.5,482 C258,479 261,477.5 263.5,477 C266,477.5 269,479 271.5,481 C271,484 269.5,487 269,490 C268.5,494 267,497.5 265.5,498.6 C263,498 261.5,494 260.5,490 C259.5,487 257.5,485 256.5,482 Z" fill="#3c3cb6"/>
<ellipse cx="264.3" cy="485.5" rx="2.6" ry="4.2" fill="#25b6e0"/>
<ellipse cx="264.3" cy="485" rx="1.4" ry="2" fill="#62c43c"/>
<line x1="236" y1="503" x2="240" y2="505" stroke="#3c3cb6" stroke-width="1.5"/>
<line x1="245" y1="501.5" x2="251" y2="505" stroke="#3c3cb6" stroke-width="1.5"/>
<line x1="248" y1="502" x2="252" y2="503" stroke="#3c3cb6" stroke-width="1.5"/>
<line x1="187.5" y1="488.5" x2="188.5" y2="495" stroke="#3c3cb6" stroke-width="1.5"/>
</g>
<text x="51" y="431" font-size="18.3" fill="#fff" textLength="96.69" lengthAdjust="spacingAndGlyphs">AAV9-hYAP</text>
<text x="172.6" y="430.6" font-size="18.3" fill="#fff" textLength="84.49" lengthAdjust="spacingAndGlyphs">AAV9-Luci</text>
<rect x="48.6" y="436" width="91.6" height="2.8" fill="#f0f0f0"/>
<rect x="165" y="436" width="101.1" height="2.8" fill="#f0f0f0"/>
<text x="221.75" y="634.4" font-size="14.5" fill="#fff" textLength="64.5" lengthAdjust="spacingAndGlyphs">Min= 186</text>
<text x="208.45" y="652.6" font-size="14.5" fill="#fff" textLength="77.89" lengthAdjust="spacingAndGlyphs">Max= 3426</text>
<text x="44.56" y="653" font-size="15.5" fill="#fff" textLength="6.26" lengthAdjust="spacingAndGlyphs">1</text>
<text x="329.15" y="367.6" font-size="33.48" font-weight="bold" fill="#231f20" textLength="22.78" lengthAdjust="spacingAndGlyphs">D</text>
<text x="558.52" y="383.1" font-size="22.3" fill="#231f20" textLength="95.9" lengthAdjust="spacingAndGlyphs">p=0.0327</text>
<path d="M443.4,415.1 L598.01,415.1 L598.01,439.83 L748.38,439.83" fill="none" stroke="#1ba9e1" stroke-width="2.6"/>
<path d="M469.92,415.1 L469.92,432.41 L518.98,432.41 L518.98,449.72 L542.45,449.72 L542.45,467.03 L563.8,467.03 L563.8,484.34 L599.87,484.34 L599.87,501.65 L646.94,501.65 L646.94,518.96 L726.5,518.96 L726.5,536.27 L748.38,536.27" fill="none" stroke="#e41e26" stroke-width="2.6"/>
<line x1="443" y1="536.27" x2="725.84" y2="536.27" stroke="#939598" stroke-width="1.3" stroke-dasharray="4 3"/>
<line x1="486.4" y1="438.41" x2="486.4" y2="530.27" stroke="#939598" stroke-width="1.6"/>
<path d="M481.9,443.9100000000001 L486.4,433.4100000000001 L490.9,443.9100000000001 L486.4,442.2100000000001 Z" fill="#939598"/>
<path d="M481.9,525.2700000000001 L486.4,535.7700000000001 L490.9,525.2700000000001 L486.4,526.9700000000001 Z" fill="#939598"/>
<line x1="486.4" y1="542.27" x2="486.4" y2="581" stroke="#939598" stroke-width="1.6"/>
<path d="M481.9,547.2700000000001 L486.4,536.7700000000001 L490.9,547.2700000000001 L486.4,545.57 Z" fill="#939598"/>
<path d="M481.9,576.0 L486.4,586.5 L490.9,576.0 L486.4,577.7 Z" fill="#939598"/>
<path d="M443.4,394.6 V588.4 H775 V394.6 Z" fill="none" stroke="#231f20" stroke-width="2.4"/>
<line x1="435.4" y1="588.2" x2="443.4" y2="588.2" stroke="#231f20" stroke-width="2.2"/>
<line x1="438.9" y1="570.89" x2="443.4" y2="570.89" stroke="#231f20" stroke-width="2.2"/>
<line x1="435.4" y1="553.58" x2="443.4" y2="553.58" stroke="#231f20" stroke-width="2.2"/>
<line x1="438.9" y1="536.27" x2="443.4" y2="536.27" stroke="#231f20" stroke-width="2.2"/>
<line x1="435.4" y1="518.96" x2="443.4" y2="518.96" stroke="#231f20" stroke-width="2.2"/>
<line x1="438.9" y1="501.65" x2="443.4" y2="501.65" stroke="#231f20" stroke-width="2.2"/>
<line x1="435.4" y1="484.34" x2="443.4" y2="484.34" stroke="#231f20" stroke-width="2.2"/>
<line x1="438.9" y1="467.03" x2="443.4" y2="467.03" stroke="#231f20" stroke-width="2.2"/>
<line x1="435.4" y1="449.72" x2="443.4" y2="449.72" stroke="#231f20" stroke-width="2.2"/>
<line x1="438.9" y1="432.41" x2="443.4" y2="432.41" stroke="#231f20" stroke-width="2.2"/>
<line x1="435.4" y1="415.1" x2="443.4" y2="415.1" stroke="#231f20" stroke-width="2.2"/>
<line x1="443.4" y1="588.2" x2="443.4" y2="595.2" stroke="#231f20" stroke-width="2.2"/>
<line x1="476.55" y1="588.2" x2="476.55" y2="593.2" stroke="#231f20" stroke-width="2.2"/>
<line x1="509.7" y1="588.2" x2="509.7" y2="595.2" stroke="#231f20" stroke-width="2.2"/>
<line x1="542.85" y1="588.2" x2="542.85" y2="593.2" stroke="#231f20" stroke-width="2.2"/>
<line x1="576" y1="588.2" x2="576" y2="595.2" stroke="#231f20" stroke-width="2.2"/>
<line x1="609.15" y1="588.2" x2="609.15" y2="593.2" stroke="#231f20" stroke-width="2.2"/>
<line x1="642.3" y1="588.2" x2="642.3" y2="595.2" stroke="#231f20" stroke-width="2.2"/>
<line x1="675.45" y1="588.2" x2="675.45" y2="593.2" stroke="#231f20" stroke-width="2.2"/>
<line x1="708.6" y1="588.2" x2="708.6" y2="595.2" stroke="#231f20" stroke-width="2.2"/>
<line x1="741.75" y1="588.2" x2="741.75" y2="593.2" stroke="#231f20" stroke-width="2.2"/>
<line x1="774.9" y1="588.2" x2="774.9" y2="595.2" stroke="#231f20" stroke-width="2.2"/>
<text x="394.42" y="596.4" font-size="22.6" fill="#231f20" textLength="37.53" lengthAdjust="spacingAndGlyphs" stroke="#231f20" stroke-width="0.3">0.0</text>
<text x="394.41" y="561.78" font-size="22.6" fill="#231f20" textLength="37.96" lengthAdjust="spacingAndGlyphs" stroke="#231f20" stroke-width="0.3">0.2</text>
<text x="394.42" y="527.16" font-size="22.6" fill="#231f20" textLength="37.39" lengthAdjust="spacingAndGlyphs" stroke="#231f20" stroke-width="0.3">0.4</text>
<text x="394.42" y="492.54" font-size="22.6" fill="#231f20" textLength="37.67" lengthAdjust="spacingAndGlyphs" stroke="#231f20" stroke-width="0.3">0.6</text>
<text x="394.42" y="457.92" font-size="22.6" fill="#231f20" textLength="37.67" lengthAdjust="spacingAndGlyphs" stroke="#231f20" stroke-width="0.3">0.8</text>
<text x="393.42" y="423.3" font-size="22.6" fill="#231f20" textLength="38.56" lengthAdjust="spacingAndGlyphs" stroke="#231f20" stroke-width="0.3">1.0</text>
<text x="437.44" y="611.8" font-size="21.3" fill="#231f20">0</text>
<text x="504.79" y="611.8" font-size="21.3" fill="#231f20">5</text>
<text x="562.37" y="611.8" font-size="21.3" fill="#231f20" textLength="26.36" lengthAdjust="spacingAndGlyphs">10</text>
<text x="628.66" y="611.8" font-size="21.3" fill="#231f20" textLength="26.5" lengthAdjust="spacingAndGlyphs">15</text>
<text x="695.59" y="611.8" font-size="21.3" fill="#231f20" textLength="25.72" lengthAdjust="spacingAndGlyphs">20</text>
<text x="761.89" y="611.8" font-size="21.3" fill="#231f20" textLength="25.85" lengthAdjust="spacingAndGlyphs">25</text>
<g transform="translate(381.6 537) rotate(-90)"><text x="-1.04" y="0" font-size="22.8" fill="#231f20" textLength="94.91" lengthAdjust="spacingAndGlyphs">Surviving</text></g>
<text x="658.39" y="434.8" font-size="22.6" fill="#1ba9e1" textLength="105.99" lengthAdjust="spacingAndGlyphs">hYAP, n=7</text>
<text x="658.14" y="512.8" font-size="22.6" fill="#e41e26" textLength="107.73" lengthAdjust="spacingAndGlyphs">Luci, n=10</text>
<rect x="461" y="473" width="52" height="32" fill="#fff"/>
<rect x="458" y="551" width="54" height="17" fill="#fff"/>
<text x="462.72" y="486.2" font-size="14.2" fill="#231f20" textLength="48.7" lengthAdjust="spacingAndGlyphs">4-23 wk</text>
<text x="447.09" y="502" font-size="14.2" fill="#231f20" textLength="77.36" lengthAdjust="spacingAndGlyphs">non-survivor</text>
<text x="460.38" y="564" font-size="14.2" fill="#231f20" textLength="49.04" lengthAdjust="spacingAndGlyphs">survivor</text>
<text x="404.08" y="635.7" font-size="17" fill="#231f20" textLength="43.27" lengthAdjust="spacingAndGlyphs">Echo</text>
<line x1="450.4" y1="631.1" x2="731" y2="631.1" stroke="#939598" stroke-width="2.4" stroke-dasharray="4.5 3.5"/>
<line x1="473" y1="631.1" x2="473" y2="597" stroke="#939598" stroke-width="2.4" stroke-dasharray="4.5 3.5"/>
<path d="M468.6,599.5 L473,589.4 L477.4,599.5 L473,597 Z" fill="#939598"/>
<line x1="500.6" y1="631.1" x2="500.6" y2="597" stroke="#939598" stroke-width="2.4" stroke-dasharray="4.5 3.5"/>
<path d="M496.20000000000005,599.5 L500.6,589.4 L505.0,599.5 L500.6,597 Z" fill="#939598"/>
<line x1="731" y1="631.1" x2="731" y2="597" stroke="#939598" stroke-width="2.4" stroke-dasharray="4.5 3.5"/>
<path d="M726.6,599.5 L731,589.4 L735.4,599.5 L731,597 Z" fill="#939598"/>
<text x="754.7" y="640.5" font-size="21.8" fill="#231f20" textLength="64.69" lengthAdjust="spacingAndGlyphs">weeks</text>
<text x="2.12" y="692.2" font-size="33.62" font-weight="bold" fill="#231f20" textLength="20.31" lengthAdjust="spacingAndGlyphs">E</text>
<rect x="66.5" y="765.71" width="17.6" height="191.19" fill="#231f20"/>
<line x1="75.3" y1="761.56" x2="75.3" y2="769.86" stroke="#000" stroke-width="2.3"/>
<line x1="71.05" y1="761.56" x2="79.55" y2="761.56" stroke="#000" stroke-width="2.4"/>
<line x1="71.05" y1="769.86" x2="79.55" y2="769.86" stroke="#000" stroke-width="2.4"/>
<rect x="99.8" y="811.34" width="17.5" height="145.56" fill="#ed1c24"/>
<line x1="108.55" y1="801.16" x2="108.55" y2="811.34" stroke="#000" stroke-width="2.3"/>
<line x1="104.3" y1="801.16" x2="112.8" y2="801.16" stroke="#000" stroke-width="2.4"/>
<rect x="132.8" y="808.32" width="17.8" height="148.58" fill="#00aeef"/>
<line x1="141.7" y1="797.01" x2="141.7" y2="808.32" stroke="#000" stroke-width="2.3"/>
<line x1="137.45" y1="797.01" x2="145.95" y2="797.01" stroke="#000" stroke-width="2.4"/>
<rect x="172.4" y="767.97" width="18.1" height="188.93" fill="#231f20"/>
<line x1="181.45" y1="758.17" x2="181.45" y2="776.27" stroke="#000" stroke-width="2.3"/>
<line x1="177.2" y1="758.17" x2="185.7" y2="758.17" stroke="#000" stroke-width="2.4"/>
<line x1="177.2" y1="776.27" x2="185.7" y2="776.27" stroke="#000" stroke-width="2.4"/>
<rect x="205.4" y="823.78" width="18.4" height="133.12" fill="#ed1c24"/>
<line x1="214.6" y1="812.47" x2="214.6" y2="823.78" stroke="#000" stroke-width="2.3"/>
<line x1="210.35" y1="812.47" x2="218.85" y2="812.47" stroke="#000" stroke-width="2.4"/>
<rect x="238.4" y="794.37" width="18.4" height="162.53" fill="#00aeef"/>
<line x1="247.6" y1="786.45" x2="247.6" y2="794.37" stroke="#000" stroke-width="2.3"/>
<line x1="243.35" y1="786.45" x2="251.85" y2="786.45" stroke="#000" stroke-width="2.4"/>
<path d="M56.9,692.4 H268.8 V956.9 H56.9 Z" fill="none" stroke="#231f20" stroke-width="2.2"/>
<line x1="56.9" y1="956.9" x2="268.8" y2="956.9" stroke="#231f20" stroke-width="3"/>
<line x1="56.9" y1="730.6" x2="268.8" y2="730.6" stroke="#231f20" stroke-width="2.8"/>
<line x1="161.8" y1="692.4" x2="161.8" y2="956.9" stroke="#231f20" stroke-width="2.2"/>
<line x1="50.3" y1="956.9" x2="56.9" y2="956.9" stroke="#231f20" stroke-width="2.4"/>
<text x="35.65" y="967.3" font-size="21.8" fill="#231f20" textLength="13.21" lengthAdjust="spacingAndGlyphs">0</text>
<line x1="50.3" y1="919.19" x2="56.9" y2="919.19" stroke="#231f20" stroke-width="2.4"/>
<text x="23.38" y="929.59" font-size="21.8" fill="#231f20" textLength="25.47" lengthAdjust="spacingAndGlyphs">10</text>
<line x1="50.3" y1="881.48" x2="56.9" y2="881.48" stroke="#231f20" stroke-width="2.4"/>
<text x="23.98" y="891.88" font-size="21.8" fill="#231f20" textLength="24.85" lengthAdjust="spacingAndGlyphs">20</text>
<line x1="50.3" y1="843.77" x2="56.9" y2="843.77" stroke="#231f20" stroke-width="2.4"/>
<text x="24.21" y="854.17" font-size="21.8" fill="#231f20" textLength="24.61" lengthAdjust="spacingAndGlyphs">30</text>
<line x1="50.3" y1="806.06" x2="56.9" y2="806.06" stroke="#231f20" stroke-width="2.4"/>
<text x="24.67" y="816.46" font-size="21.8" fill="#231f20" textLength="24.14" lengthAdjust="spacingAndGlyphs">40</text>
<line x1="50.3" y1="768.35" x2="56.9" y2="768.35" stroke="#231f20" stroke-width="2.4"/>
<text x="24.21" y="778.75" font-size="21.8" fill="#231f20" textLength="24.61" lengthAdjust="spacingAndGlyphs">50</text>
<line x1="50.3" y1="730.64" x2="56.9" y2="730.64" stroke="#231f20" stroke-width="2.4"/>
<text x="23.98" y="741.04" font-size="21.8" fill="#231f20" textLength="24.85" lengthAdjust="spacingAndGlyphs">60</text>
<text x="80.52" y="719.7" font-size="21.5" fill="#231f20" textLength="55.26" lengthAdjust="spacingAndGlyphs">2 wks</text>
<text x="185.21" y="719.4" font-size="21.5" fill="#231f20" textLength="56.13" lengthAdjust="spacingAndGlyphs">4 wks</text>
<path d="M74.5,756.6 V751.1 H141.8 V758.1" fill="none" stroke="#231f20" stroke-width="2.2"/>
<path d="M106.4,783.4 V775.9 H141.8 V783.9" fill="none" stroke="#231f20" stroke-width="2.2"/>
<path d="M180.4,756.6 V751.1 H248.3 V757.1" fill="none" stroke="#231f20" stroke-width="2.2"/>
<path d="M212.9,781.9 V776.4 H248.3 V781.4" fill="none" stroke="#231f20" stroke-width="2.2"/>
<text x="104.39" y="754.6" font-size="21.5" font-weight="bold" fill="#231f20" textLength="8.81" lengthAdjust="spacingAndGlyphs">*</text>
<text x="226.09" y="779.8" font-size="21.5" font-weight="bold" fill="#231f20" textLength="8.81" lengthAdjust="spacingAndGlyphs">*</text>
<text x="111.03" y="772.4" font-size="18.5" fill="#231f20" textLength="25.58" lengthAdjust="spacingAndGlyphs">NS</text>
<text x="182.45" y="747.4" font-size="18.5" fill="#231f20" textLength="64.71" lengthAdjust="spacingAndGlyphs">p=0.068</text>
<g transform="translate(15.3 877) rotate(-90)"><text x="-1.76" y="0" font-size="21.5" fill="#231f20" textLength="68.4" lengthAdjust="spacingAndGlyphs">FS (%)</text></g>
<rect x="48.6" y="983.1" width="18.8" height="17.8" fill="#231f20"/>
<rect x="120.5" y="983.1" width="18.8" height="17.8" fill="#ed1c24"/>
<rect x="191.2" y="983.1" width="18.8" height="17.8" fill="#00aeef"/>
<text x="72.81" y="998.3" font-size="21.5" fill="#231f20" textLength="33.91" lengthAdjust="spacingAndGlyphs">Ctrl</text>
<text x="144.8" y="989.6" font-size="21.5" fill="#231f20" textLength="36.06" lengthAdjust="spacingAndGlyphs">MI+</text>
<text x="143.41" y="1012.9" font-size="21.5" fill="#231f20" textLength="41.15" lengthAdjust="spacingAndGlyphs">Luci</text>
<text x="220.26" y="989.6" font-size="21.5" fill="#231f20" textLength="36.82" lengthAdjust="spacingAndGlyphs">MI+</text>
<text x="212.34" y="1012.9" font-size="21.5" fill="#231f20" textLength="55.24" lengthAdjust="spacingAndGlyphs">hYAP</text>
<text x="295.99" y="692" font-size="32.9" font-weight="bold" fill="#231f20" textLength="17.97" lengthAdjust="spacingAndGlyphs">F</text>
<rect x="365.6" y="823.62" width="26.8" height="135.58" fill="#ed1c24"/>
<line x1="379" y1="788.34" x2="379" y2="823.62" stroke="#231f20" stroke-width="2.2"/>
<line x1="375.5" y1="788.34" x2="382.5" y2="788.34" stroke="#231f20" stroke-width="2.4"/>
<rect x="403.2" y="784.82" width="26.8" height="174.38" fill="#00aeef"/>
<line x1="416.6" y1="743.99" x2="416.6" y2="784.82" stroke="#231f20" stroke-width="2.2"/>
<line x1="413.1" y1="743.99" x2="420.1" y2="743.99" stroke="#231f20" stroke-width="2.4"/>
<rect x="458.6" y="808" width="25" height="151.2" fill="#ed1c24"/>
<line x1="471.1" y1="754.07" x2="471.1" y2="808" stroke="#231f20" stroke-width="2.2"/>
<line x1="467.6" y1="754.07" x2="474.6" y2="754.07" stroke="#231f20" stroke-width="2.4"/>
<rect x="492.6" y="851.2" width="24.7" height="108" fill="#00aeef"/>
<line x1="504.95" y1="829.8" x2="504.95" y2="851.2" stroke="#231f20" stroke-width="2.2"/>
<line x1="501.45" y1="829.8" x2="508.45" y2="829.8" stroke="#231f20" stroke-width="2.4"/>
<path d="M348.7,731.4 V692.7 H532.9 V731.4" fill="none" stroke="#231f20" stroke-width="2.2"/>
<path d="M348.7,730.5 V959.2 H533.2 V730.5" fill="none" stroke="#231f20" stroke-width="2.6"/>
<line x1="345" y1="730.8" x2="537.5" y2="730.8" stroke="#231f20" stroke-width="2.8"/>
<line x1="443.2" y1="730.8" x2="443.2" y2="959.2" stroke="#231f20" stroke-width="2.2"/>
<line x1="344.2" y1="959.2" x2="348.7" y2="959.2" stroke="#231f20" stroke-width="2.2"/>
<line x1="345.7" y1="934" x2="348.7" y2="934" stroke="#231f20" stroke-width="2.2"/>
<line x1="344.2" y1="908.8" x2="348.7" y2="908.8" stroke="#231f20" stroke-width="2.2"/>
<line x1="345.7" y1="883.6" x2="348.7" y2="883.6" stroke="#231f20" stroke-width="2.2"/>
<line x1="344.2" y1="858.4" x2="348.7" y2="858.4" stroke="#231f20" stroke-width="2.2"/>
<line x1="345.7" y1="833.2" x2="348.7" y2="833.2" stroke="#231f20" stroke-width="2.2"/>
<line x1="344.2" y1="808" x2="348.7" y2="808" stroke="#231f20" stroke-width="2.2"/>
<line x1="345.7" y1="782.8" x2="348.7" y2="782.8" stroke="#231f20" stroke-width="2.2"/>
<line x1="344.2" y1="757.6" x2="348.7" y2="757.6" stroke="#231f20" stroke-width="2.2"/>
<line x1="345.7" y1="732.4" x2="348.7" y2="732.4" stroke="#231f20" stroke-width="2.2"/>
<text x="329.83" y="968.8" font-size="20.8" fill="#231f20" textLength="13.44" lengthAdjust="spacingAndGlyphs">0</text>
<text x="317.25" y="918.4" font-size="20.8" fill="#231f20" textLength="26.03" lengthAdjust="spacingAndGlyphs">10</text>
<text x="317.86" y="868" font-size="20.8" fill="#231f20" textLength="25.39" lengthAdjust="spacingAndGlyphs">20</text>
<text x="318.1" y="817.6" font-size="20.8" fill="#231f20" textLength="25.15" lengthAdjust="spacingAndGlyphs">30</text>
<text x="318.56" y="767.2" font-size="20.8" fill="#231f20" textLength="24.67" lengthAdjust="spacingAndGlyphs">40</text>
<line x1="533.2" y1="959.2" x2="537.8" y2="959.2" stroke="#231f20" stroke-width="2.2"/>
<line x1="533.2" y1="926.95" x2="537.8" y2="926.95" stroke="#231f20" stroke-width="2.2"/>
<line x1="533.2" y1="894.7" x2="537.8" y2="894.7" stroke="#231f20" stroke-width="2.2"/>
<line x1="533.2" y1="862.45" x2="537.8" y2="862.45" stroke="#231f20" stroke-width="2.2"/>
<line x1="533.2" y1="830.2" x2="537.8" y2="830.2" stroke="#231f20" stroke-width="2.2"/>
<line x1="533.2" y1="797.95" x2="537.8" y2="797.95" stroke="#231f20" stroke-width="2.2"/>
<line x1="533.2" y1="765.7" x2="537.8" y2="765.7" stroke="#231f20" stroke-width="2.2"/>
<line x1="533.2" y1="733.45" x2="537.8" y2="733.45" stroke="#231f20" stroke-width="2.2"/>
<text x="540.75" y="968.4" font-size="19.5" fill="#231f20" textLength="13.21" lengthAdjust="spacingAndGlyphs">0</text>
<text x="540.74" y="903.9" font-size="19.5" fill="#231f20" textLength="46.54" lengthAdjust="spacingAndGlyphs">0.05</text>
<text x="540.75" y="839.4" font-size="19.5" fill="#231f20" textLength="46.42" lengthAdjust="spacingAndGlyphs">0.10</text>
<text x="540.74" y="774.9" font-size="19.5" fill="#231f20" textLength="46.54" lengthAdjust="spacingAndGlyphs">0.15</text>
<text x="408.9" y="719.3" font-size="21.5" fill="#231f20" textLength="68.52" lengthAdjust="spacingAndGlyphs">23 wks</text>
<text x="380.99" y="755.5" font-size="21.5" fill="#231f20" textLength="31.42" lengthAdjust="spacingAndGlyphs">NS</text>
<text x="472.3" y="755.5" font-size="21.5" fill="#231f20" textLength="31.2" lengthAdjust="spacingAndGlyphs">NS</text>
<g transform="translate(311.7 878.7) rotate(-90)"><text x="-1.91" y="0" font-size="21.5" fill="#231f20" textLength="74.26" lengthAdjust="spacingAndGlyphs">EF (%)</text></g>
<g transform="translate(613.7 907.1) rotate(-90)"><text x="-1.99" y="0" font-size="22" fill="#231f20" textLength="128.09" lengthAdjust="spacingAndGlyphs">LVESV (ml)</text></g>
<rect x="370.2" y="982.9" width="19" height="17.7" fill="#ed1c24"/>
<rect x="440.2" y="982.9" width="19.2" height="17.7" fill="#00aeef"/>
<text x="394.04" y="988.1" font-size="21.5" fill="#231f20" textLength="37.25" lengthAdjust="spacingAndGlyphs">MI+</text>
<text x="392.97" y="1013.1" font-size="21.5" fill="#231f20" textLength="41.92" lengthAdjust="spacingAndGlyphs">Luci</text>
<text x="469.75" y="988.1" font-size="21.5" fill="#231f20" textLength="37.15" lengthAdjust="spacingAndGlyphs">MI+</text>
<text x="461.95" y="1013.1" font-size="21.5" fill="#231f20" textLength="54.82" lengthAdjust="spacingAndGlyphs">hYAP</text>
<text x="634.71" y="692.1" font-size="33.43" font-weight="bold" fill="#231f20" textLength="25.12" lengthAdjust="spacingAndGlyphs">G</text>
<path d="M735.8,730 V693 H862.6 V730 Z" fill="none" stroke="#231f20" stroke-width="2.4"/>
<text x="753.87" y="717.9" font-size="21.5" fill="#231f20" textLength="90.72" lengthAdjust="spacingAndGlyphs">MI + Luci</text>
<rect x="754.6" y="756.05" width="29.9" height="202.85" fill="#ed1c24"/>
<rect x="811.9" y="820.34" width="29.8" height="138.56" fill="#ed1c24"/>
<line x1="769.6" y1="744.5" x2="769.6" y2="756.05" stroke="#231f20" stroke-width="2.2"/>
<line x1="765.6" y1="744.5" x2="773.6" y2="744.5" stroke="#231f20" stroke-width="2.4"/>
<line x1="826.8" y1="810.38" x2="826.8" y2="820.34" stroke="#231f20" stroke-width="2.2"/>
<line x1="822.8" y1="810.38" x2="830.8" y2="810.38" stroke="#231f20" stroke-width="2.4"/>
<path d="M736,732.4 V958.9 H862.4 V732.4 Z" fill="none" stroke="#231f20" stroke-width="2.4"/>
<rect x="736" y="729.6" width="126.6" height="4.8" fill="#3a3a3a"/>
<line x1="736" y1="730.4" x2="862.4" y2="730.4" stroke="#000" stroke-width="1.6"/>
<line x1="736" y1="733.5" x2="862.4" y2="733.5" stroke="#000" stroke-width="1.6"/>
<line x1="731.5" y1="958.9" x2="736" y2="958.9" stroke="#231f20" stroke-width="2.2"/>
<line x1="733.5" y1="936.26" x2="736" y2="936.26" stroke="#231f20" stroke-width="2.2"/>
<line x1="731.5" y1="913.62" x2="736" y2="913.62" stroke="#231f20" stroke-width="2.2"/>
<line x1="733.5" y1="890.98" x2="736" y2="890.98" stroke="#231f20" stroke-width="2.2"/>
<line x1="731.5" y1="868.34" x2="736" y2="868.34" stroke="#231f20" stroke-width="2.2"/>
<line x1="733.5" y1="845.7" x2="736" y2="845.7" stroke="#231f20" stroke-width="2.2"/>
<line x1="731.5" y1="823.06" x2="736" y2="823.06" stroke="#231f20" stroke-width="2.2"/>
<line x1="733.5" y1="800.42" x2="736" y2="800.42" stroke="#231f20" stroke-width="2.2"/>
<line x1="731.5" y1="777.78" x2="736" y2="777.78" stroke="#231f20" stroke-width="2.2"/>
<line x1="733.5" y1="755.14" x2="736" y2="755.14" stroke="#231f20" stroke-width="2.2"/>
<line x1="731.5" y1="732.5" x2="736" y2="732.5" stroke="#231f20" stroke-width="2.2"/>
<text x="717.6" y="967.9" font-size="21" fill="#231f20" textLength="12.51" lengthAdjust="spacingAndGlyphs">0</text>
<text x="705.97" y="922.62" font-size="21" fill="#231f20" textLength="24.14" lengthAdjust="spacingAndGlyphs">10</text>
<text x="706.54" y="877.34" font-size="21" fill="#231f20" textLength="23.55" lengthAdjust="spacingAndGlyphs">20</text>
<text x="706.76" y="832.06" font-size="21" fill="#231f20" textLength="23.32" lengthAdjust="spacingAndGlyphs">30</text>
<text x="707.19" y="786.78" font-size="21" fill="#231f20" textLength="22.88" lengthAdjust="spacingAndGlyphs">40</text>
<text x="706.76" y="741.5" font-size="21" fill="#231f20" textLength="23.32" lengthAdjust="spacingAndGlyphs">50</text>
<text x="821.76" y="786.8" font-size="27.5" font-weight="bold" fill="#231f20" textLength="10.85" lengthAdjust="spacingAndGlyphs">*</text>
<g transform="translate(663 895) rotate(-90)"><text x="-2.21" y="0" font-size="25.5" fill="#231f20" textLength="90.45" lengthAdjust="spacingAndGlyphs">FS% at</text></g>
<g transform="translate(693 938) rotate(-90)"><text x="-0.51" y="0" font-size="25.5" fill="#231f20" textLength="186.83" lengthAdjust="spacingAndGlyphs">4 weeks post-MI</text></g>
<g transform="translate(781.9 967.9) rotate(-45)"><text x="-75.25" y="0" font-size="21" fill="#231f20" textLength="75.59" lengthAdjust="spacingAndGlyphs">survivor</text></g>
<g transform="translate(846.4 967.2) rotate(-45)"><text x="-120.12" y="0" font-size="21" fill="#231f20" textLength="120.98" lengthAdjust="spacingAndGlyphs">4-23 wk non-</text></g>
<g transform="translate(847.4 995.9) rotate(-45)"><text x="-75.25" y="0" font-size="21" fill="#231f20" textLength="75.59" lengthAdjust="spacingAndGlyphs">survivor</text></g>
</svg></body></html>
